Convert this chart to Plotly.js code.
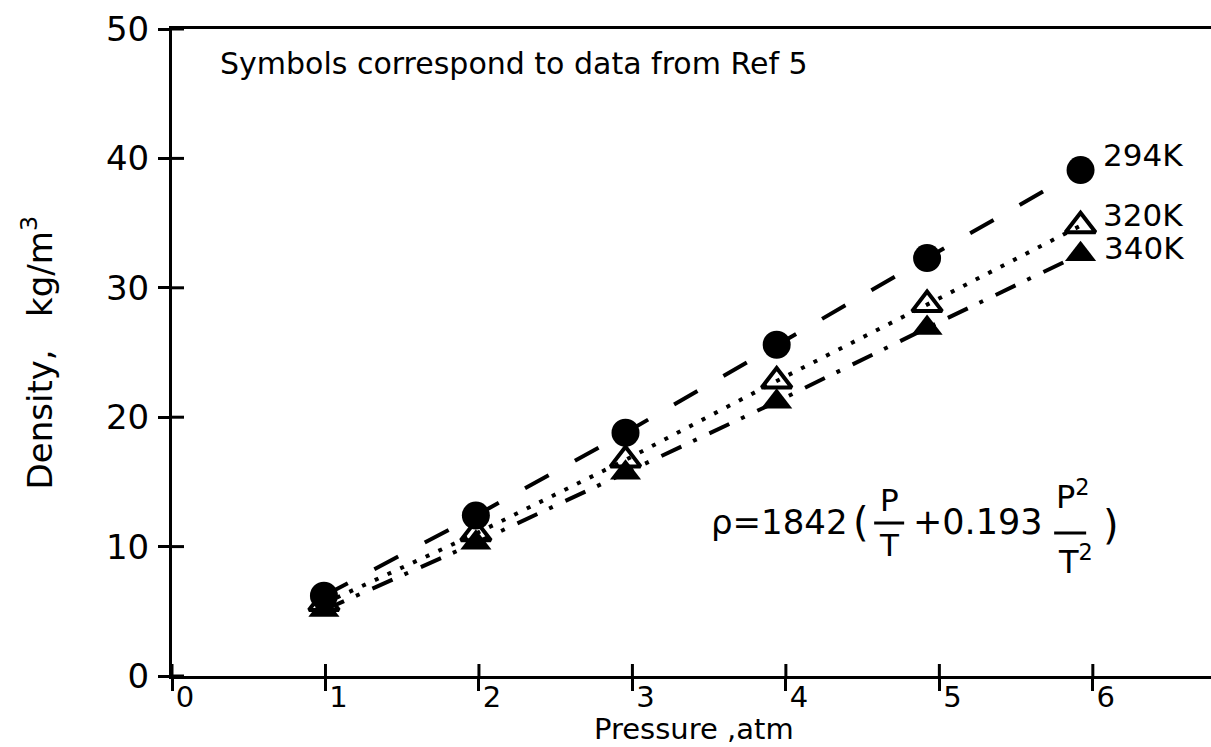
<!DOCTYPE html>
<html>
<head>
<meta charset="utf-8">
<script src="https://cdn.plot.ly/plotly-2.35.2.min.js"></script>
<style>html,body{margin:0;padding:0;background:#fff;}#chart{width:1211px;height:747px;}</style>
</head>
<body>
<div id="chart"></div>
<script>
// Pressure (atm) as plotted
const pressure = [0.99, 1.98, 2.955, 3.94, 4.92, 5.92];
// Density kg/m^3
const rho294 = [6.2, 12.4, 18.8, 25.6, 32.3, 39.1];
const rho320 = [5.6, 11.0, 16.7, 22.8, 28.7, 34.8];
const rho340 = [5.1, 10.3, 15.7, 21.2, 26.9, 32.6];
const seriesNames = ["294K", "320K", "340K"];
const xTicks = [0, 1, 2, 3, 4, 5, 6];
const yTicks = [0, 10, 20, 30, 40, 50];

const FONT = "DejaVu Sans, Arial, sans-serif";
const BLACK = "#000";

const traces = [
  {x: pressure, y: rho294, name: seriesNames[0], mode: "lines+markers",
   line: {color: BLACK, width: 4, dash: "27px,30px"},
   marker: {symbol: "circle", size: 28, color: BLACK}},
  {x: pressure, y: rho320, name: seriesNames[1], mode: "lines+markers",
   line: {color: BLACK, width: 4, dash: "4px,10px"},
   marker: {symbol: "triangle-up-open", size: 26, color: BLACK, line: {width: 4, color: BLACK}}},
  {x: pressure, y: rho340, name: seriesNames[2], mode: "lines+markers",
   line: {color: BLACK, width: 4, dash: "22px,13px,4px,14px"},
   marker: {symbol: "triangle-up", size: 27, color: BLACK}}
];

const shapes = [];
// inside halves of the crossing tick marks
xTicks.forEach(t => shapes.push({type: "line", xref: "x", yref: "y", ysizemode: "pixel", yanchor: 0,
  x0: t, x1: t, y0: 0, y1: 12, line: {color: BLACK, width: 3}}));
yTicks.forEach(t => shapes.push({type: "line", xref: "x", yref: "y", xsizemode: "pixel", xanchor: 0,
  x0: 0, x1: 12, y0: t, y1: t, line: {color: BLACK, width: 3}}));

// formula placement (data coordinates for text)
const fx = 3.5, fy = 11.9;
const annotations = [
  {xref: "paper", yref: "paper", x: 0.044, y: 0.946, xanchor: "left", yanchor: "middle", showarrow: false,
   text: "Symbols correspond to data from Ref 5", font: {family: FONT, size: 30, color: BLACK}},
  {xref: "paper", yref: "paper", x: 0.502, y: -0.082, xanchor: "center", yanchor: "middle", showarrow: false,
   text: "Pressure ,atm", font: {family: FONT, size: 29, color: BLACK}},
  {xref: "paper", yref: "paper", x: -0.13, y: 0.5, xanchor: "center", yanchor: "middle", showarrow: false,
   textangle: -90, text: "Density,   kg/m<sup>3</sup>", font: {family: FONT, size: 34, color: BLACK}},
  {xref: "x", yref: "y", x: pressure[5], y: rho294[5], xanchor: "left", yanchor: "middle", xshift: 20, yshift: 15,
   showarrow: false, text: seriesNames[0], font: {family: FONT, size: 31, color: BLACK}},
  {xref: "x", yref: "y", x: pressure[5], y: rho320[5], xanchor: "left", yanchor: "middle", xshift: 20, yshift: 11,
   showarrow: false, text: seriesNames[1], font: {family: FONT, size: 31, color: BLACK}},
  {xref: "x", yref: "y", x: pressure[5], y: rho340[5], xanchor: "left", yanchor: "middle", xshift: 21, yshift: 6,
   showarrow: false, text: seriesNames[2], font: {family: FONT, size: 31, color: BLACK}},
  // formula pieces
  {xref: "x", yref: "y", x: fx, y: fy, xanchor: "left", yanchor: "middle", showarrow: false,
   text: "ρ=1842", font: {family: FONT, size: 34, color: BLACK}},
  {xref: "x", yref: "y", x: fx, y: fy, xanchor: "left", yanchor: "middle", xshift: 142, yshift: 0, showarrow: false,
   text: "(", font: {family: FONT, size: 40, color: BLACK}},
  {xref: "x", yref: "y", x: fx, y: fy, xanchor: "center", yanchor: "middle", xshift: 180, yshift: 22, showarrow: false,
   text: "P", font: {family: FONT, size: 31, color: BLACK}},
  {xref: "x", yref: "y", x: fx, y: fy, xanchor: "center", yanchor: "middle", xshift: 180, yshift: -23, showarrow: false,
   text: "T", font: {family: FONT, size: 31, color: BLACK}},
  {xref: "x", yref: "y", x: fx, y: fy, xanchor: "left", yanchor: "middle", xshift: 202, yshift: 0, showarrow: false,
   text: "+0.193", font: {family: FONT, size: 35, color: BLACK}},
  {xref: "x", yref: "y", x: fx, y: fy, xanchor: "left", yanchor: "middle", xshift: 345, yshift: 27, showarrow: false,
   text: "P<sup>2</sup>", font: {family: FONT, size: 32, color: BLACK}},
  {xref: "x", yref: "y", x: fx, y: fy, xanchor: "left", yanchor: "middle", xshift: 347, yshift: -38, showarrow: false,
   text: "T<sup>2</sup>", font: {family: FONT, size: 32, color: BLACK}},
  {xref: "x", yref: "y", x: fx, y: fy, xanchor: "left", yanchor: "middle", xshift: 392, yshift: -3, showarrow: false,
   text: ")", font: {family: FONT, size: 40, color: BLACK}}
];
// fraction bars
shapes.push({type: "line", xref: "x", yref: "y", xsizemode: "pixel", xanchor: fx, ysizemode: "pixel", yanchor: fy,
  x0: 165, x1: 195, y0: -1, y1: -1, line: {color: BLACK, width: 3}});
shapes.push({type: "line", xref: "x", yref: "y", xsizemode: "pixel", xanchor: fx, ysizemode: "pixel", yanchor: fy,
  x0: 345, x1: 377, y0: -11, y1: -11, line: {color: BLACK, width: 3}});

const layout = {
  width: 1211, height: 747,
  margin: {l: 172, r: 0, t: 29, b: 71},
  paper_bgcolor: "#fff", plot_bgcolor: "#fff",
  showlegend: false,
  font: {family: FONT, color: BLACK},
  xaxis: {range: [0, 6.77], tickvals: xTicks, ticktext: xTicks.map(String),
    showgrid: false, zeroline: false, showline: true, linecolor: BLACK, linewidth: 3, mirror: true,
    ticks: "outside", ticklen: 12, tickwidth: 3, tickcolor: BLACK, ticklabelshift: 13, ticklabelstandoff: -19,
    tickfont: {family: FONT, size: 29, color: BLACK}, fixedrange: true},
  yaxis: {range: [0, 50], tickvals: yTicks, ticktext: yTicks.map(String),
    showgrid: false, zeroline: false, showline: true, linecolor: BLACK, linewidth: 3,
    ticks: "outside", ticklen: 11, tickwidth: 3, tickcolor: BLACK, ticklabelstandoff: 2,
    tickfont: {family: FONT, size: 34, color: BLACK}, fixedrange: true},
  shapes: shapes,
  annotations: annotations
};

Plotly.newPlot("chart", traces, layout, {displayModeBar: false, staticPlot: true});
</script>
</body>
</html>
